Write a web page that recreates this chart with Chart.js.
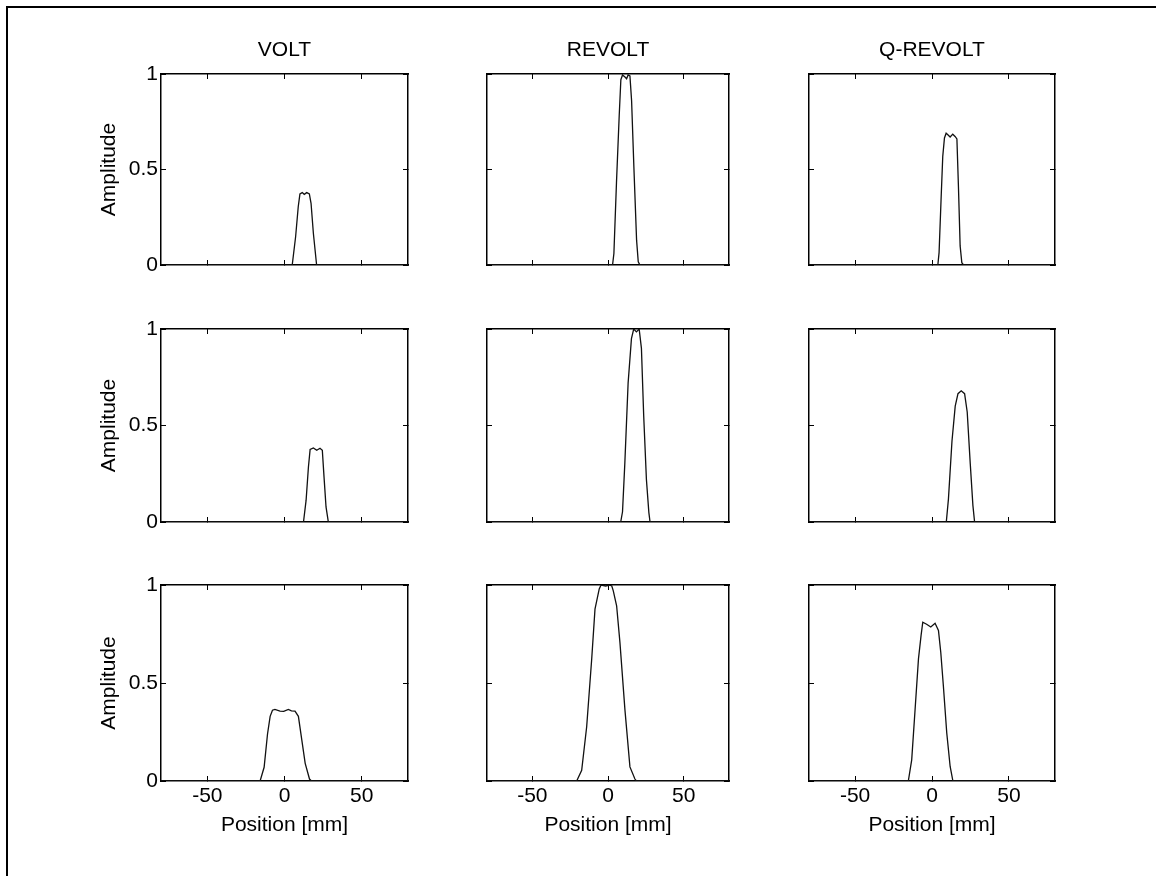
<!DOCTYPE html>
<html>
<head>
<meta charset="utf-8">
<script src="https://cdn.jsdelivr.net/npm/chart.js@4/dist/chart.umd.min.js"></script>
<style>
  html, body { margin: 0; padding: 0; background: #fff; }
  body { width: 1156px; height: 876px; position: relative; overflow: hidden; }
  #frame { position: absolute; left: 6px; top: 6px; width: 1150px; height: 870px;
           border-top: 2px solid #000; border-left: 2px solid #000; box-sizing: border-box; }
  canvas { position: absolute; }
</style>
</head>
<body>
<div id="frame"></div>
<script>
// Column headings (beamforming method) and shared axis text
const methods = ['VOLT', 'REVOLT', 'Q-REVOLT'];
const xTicks = [-50, 0, 50];
const xTickLabels = ['-50', '0', '50'];
const yTicks = [0, 0.5, 1];
const yTickLabels = ['0', '0.5', '1'];
const xLabel = 'Position [mm]';
const yLabel = 'Amplitude';
const xRange = [-80, 80];
const yRange = [0, 1];

// Lateral beam profiles, top row
const volt1X    = [-80, 5.0, 7.2, 8.9, 10.0, 11.5, 12.8, 14.4, 16.1, 17.2, 18.7, 20.8, 80];
const volt1Y    = [0, 0, 0.148, 0.305, 0.372, 0.379, 0.37, 0.379, 0.372, 0.323, 0.166, 0, 0];
const revolt1X  = [-80, 3.0, 3.9, 5.6, 7.4, 8.5, 9.6, 11.4, 12.3, 13.3, 14.5, 15.6, 17.1, 18.9, 20.0, 21.1, 80];
const revolt1Y  = [0, 0, 0.06, 0.43, 0.78, 0.97, 0.995, 0.983, 0.975, 0.995, 0.99, 0.86, 0.515, 0.13, 0.017, 0, 0];
const qrevolt1X = [-80, 3.8, 4.6, 5.9, 7.0, 8.1, 9.2, 10.3, 11.8, 13.5, 15.0, 16.2, 17.2, 18.3, 19.4, 20.5, 80];
const qrevolt1Y = [0, 0, 0.065, 0.343, 0.569, 0.665, 0.69, 0.682, 0.67, 0.685, 0.673, 0.66, 0.41, 0.1, 0.012, 0, 0];

// Middle row
const volt2X    = [-80, 12.3, 14.0, 15.5, 16.6, 18.7, 20.9, 23.0, 24.5, 25.6, 26.9, 28.4, 80];
const volt2Y    = [0, 0, 0.113, 0.285, 0.376, 0.384, 0.372, 0.382, 0.372, 0.234, 0.078, 0, 0];
const revolt2X  = [-80, 8.4, 9.6, 11.1, 13.3, 15.5, 17.0, 18.8, 20.6, 22.1, 23.6, 25.4, 27.0, 27.8, 80];
const revolt2Y  = [0, 0, 0.053, 0.30, 0.72, 0.95, 1.0, 0.985, 1.0, 0.9, 0.55, 0.22, 0.05, 0, 0];
const qrevolt2X = [-80, 9.3, 10.7, 13.0, 15.1, 16.9, 19.0, 21.2, 22.9, 24.9, 26.6, 27.7, 80];
const qrevolt2Y = [0, 0, 0.12, 0.42, 0.60, 0.665, 0.68, 0.665, 0.57, 0.30, 0.086, 0, 0];

// Bottom row
const volt3X    = [-80, -15.8, -13.2, -11.0, -9.3, -7.8, -6.2, -2.9, -0.5, 2.5, 4.5, 6.8, 9.0, 11.2, 13.4, 16.2, 17.5, 80];
const volt3Y    = [0, 0, 0.07, 0.24, 0.33, 0.361, 0.365, 0.357, 0.355, 0.365, 0.358, 0.357, 0.33, 0.21, 0.09, 0.01, 0, 0];
const revolt3X  = [-80, -20.7, -17.4, -14.1, -10.8, -8.6, -5.8, -4.6, -1.5, 1.0, 2.5, 3.5, 5.7, 7.9, 11.2, 14.5, 17.8, 18.8, 80];
const revolt3Y  = [0, 0, 0.055, 0.277, 0.62, 0.877, 0.98, 1.0, 0.995, 1.0, 0.995, 0.97, 0.894, 0.706, 0.363, 0.072, 0.01, 0, 0];
const qrevolt3X = [-80, -15.4, -13.2, -11.0, -8.8, -7.1, -6.0, -3.5, -0.8, 2.0, 4.2, 5.7, 7.4, 9.6, 11.8, 13.6, 80];
const qrevolt3Y = [0, 0, 0.108, 0.365, 0.623, 0.743, 0.81, 0.8, 0.786, 0.805, 0.768, 0.657, 0.485, 0.245, 0.074, 0, 0];

const profiles = [
  [[volt1X, volt1Y], [revolt1X, revolt1Y], [qrevolt1X, qrevolt1Y]],
  [[volt2X, volt2Y], [revolt2X, revolt2Y], [qrevolt2X, qrevolt2Y]],
  [[volt3X, volt3Y], [revolt3X, revolt3Y], [qrevolt3X, qrevolt3Y]]
];

// Panel plot-area placement on the page
const colLeft = [161, 487, 809];
const colWidth = [247, 242, 246];
const rowTop = [74, 329, 585];
const rowHeight = [191, 193, 196];

const FONT = { family: '"Liberation Sans", Arial, Helvetica, sans-serif', size: 21 };
const INK = '#000';
const PAD_L = 80, PAD_T = 50, PAD_R = 10, PAD_B = 60;

function fixedTicks(values) {
  return scale => { scale.ticks = values.map(v => ({ value: v })); };
}

function tickMarks() {
  // short marks pointing into the plot box
  return { drawOnChartArea: false, drawTicks: true, tickLength: -5, color: INK, lineWidth: 1 };
}

function boxEdge() {
  return { display: true, color: INK, width: 1.5 };
}

function makePanel(r, c) {
  const L = colLeft[c], T = rowTop[r], W = colWidth[c], H = rowHeight[r];
  const cv = document.createElement('canvas');
  const cw = W + PAD_L + PAD_R, ch = H + PAD_T + PAD_B;
  cv.width = cw; cv.height = ch;
  cv.style.width = cw + 'px'; cv.style.height = ch + 'px';
  cv.style.left = (L - PAD_L) + 'px';
  cv.style.top = (T - PAD_T) + 'px';
  document.body.appendChild(cv);

  const [xs, ys] = profiles[r][c];
  const points = xs.map((x, i) => ({ x: x, y: ys[i] }));
  const bottomRow = r === 2, leftCol = c === 0, topRow = r === 0;

  new Chart(cv, {
    type: 'line',
    data: {
      datasets: [{
        data: points,
        borderColor: '#111',
        borderWidth: 1.3,
        pointRadius: 0,
        tension: 0,
        fill: false,
        xAxisID: 'x',
        yAxisID: 'y'
      }]
    },
    options: {
      responsive: false,
      animation: false,
      devicePixelRatio: 1,
      events: [],
      layout: { padding: { top: 10, right: PAD_R, left: 0, bottom: 0 } },
      plugins: { legend: { display: false }, tooltip: { enabled: false }, title: { display: false } },
      scales: {
        x: {
          type: 'linear', position: 'bottom', min: xRange[0], max: xRange[1],
          afterBuildTicks: fixedTicks(xTicks),
          afterFit: s => { s.height = PAD_B; },
          grid: tickMarks(), border: boxEdge(),
          ticks: { display: bottomRow, padding: 8, color: INK, font: FONT, maxRotation: 0, autoSkip: false,
                   callback: (v, i) => xTickLabels[i] },
          title: { display: bottomRow, text: xLabel, color: INK, font: FONT, padding: { top: 0, bottom: 3 } }
        },
        x2: {
          type: 'linear', position: 'top', min: xRange[0], max: xRange[1],
          afterBuildTicks: fixedTicks(xTicks),
          afterFit: s => { s.height = PAD_T - 10; },
          grid: tickMarks(), border: boxEdge(),
          ticks: { display: false },
          title: { display: topRow, text: methods[c], color: INK, font: FONT, padding: { top: 4, bottom: 0 } }
        },
        y: {
          type: 'linear', position: 'left', min: yRange[0], max: yRange[1],
          afterBuildTicks: fixedTicks(yTicks),
          afterFit: s => { s.width = PAD_L; },
          grid: tickMarks(), border: boxEdge(),
          ticks: { display: leftCol, padding: 8, color: INK, font: FONT, autoSkip: false,
                   callback: (v, i) => yTickLabels[i] },
          title: { display: leftCol, text: yLabel, color: INK, font: FONT, padding: { top: 16, bottom: 0 } }
        },
        y2: {
          type: 'linear', position: 'right', min: yRange[0], max: yRange[1],
          afterBuildTicks: fixedTicks(yTicks),
          afterFit: s => { s.width = 0; },
          grid: tickMarks(), border: boxEdge(),
          ticks: { display: false }
        }
      }
    }
  });
}

for (let r = 0; r < 3; r++) {
  for (let c = 0; c < 3; c++) {
    makePanel(r, c);
  }
}
</script>
</body>
</html>
